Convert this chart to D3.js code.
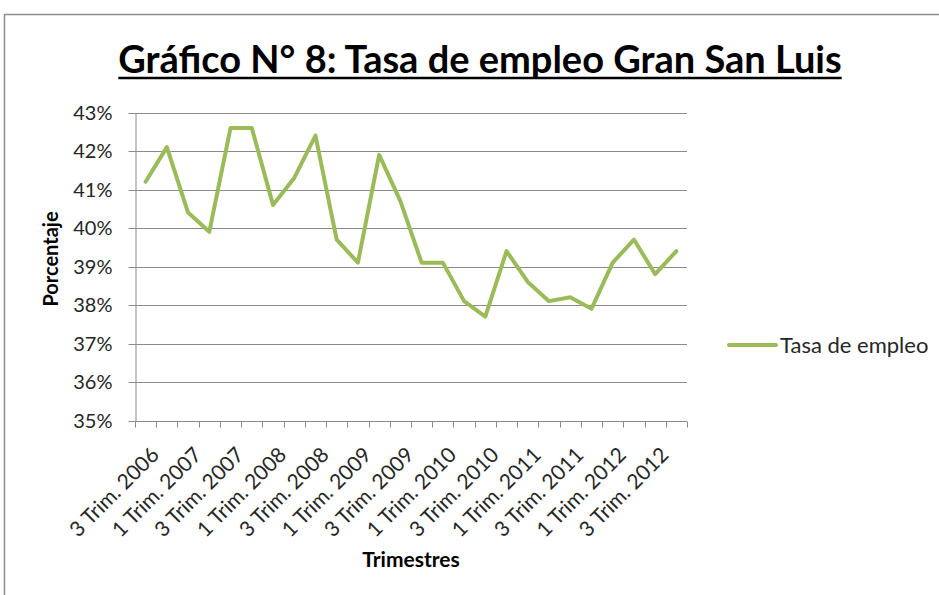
<!DOCTYPE html>
<html>
<head>
<meta charset="utf-8">
<script src="https://cdn.jsdelivr.net/npm/d3@7"></script>
<style>
  body { margin: 0; background: #fff; }
  svg { display: block; }
</style>
</head>
<body>
<svg id="chart" width="939" height="595"></svg>
<script>
// quarters from 3 Trim. 2006 to 4 Trim. 2012
var trimestres = [
  "3 Trim. 2006", "4 Trim. 2006",
  "1 Trim. 2007", "2 Trim. 2007", "3 Trim. 2007", "4 Trim. 2007",
  "1 Trim. 2008", "2 Trim. 2008", "3 Trim. 2008", "4 Trim. 2008",
  "1 Trim. 2009", "2 Trim. 2009", "3 Trim. 2009", "4 Trim. 2009",
  "1 Trim. 2010", "2 Trim. 2010", "3 Trim. 2010", "4 Trim. 2010",
  "1 Trim. 2011", "2 Trim. 2011", "3 Trim. 2011", "4 Trim. 2011",
  "1 Trim. 2012", "2 Trim. 2012", "3 Trim. 2012", "4 Trim. 2012"
];
var tasaEmpleo = [
  41.2, 42.1, 40.4, 39.9, 42.6, 42.6, 40.6, 41.3, 42.4, 39.7,
  39.1, 41.9, 40.7, 39.1, 39.1, 38.1, 37.7, 39.4, 38.6, 38.1,
  38.2, 37.9, 39.1, 39.7, 38.8, 39.4
];
var yTicks = [35, 36, 37, 38, 39, 40, 41, 42, 43];

var FONT = "Lato, 'Liberation Sans', sans-serif";
var svg = d3.select("#chart");

//* outer frame
svg.append("rect")
  .attr("x", 4.5).attr("y", 14.5)
  .attr("width", 960).attr("height", 620)
  .attr("fill", "none")
  .attr("stroke", "#8c8c8c")
  .attr("stroke-width", 1.5);

var plot = { left: 135, right: 687, top: 112.5, bottom: 420.5 };

var x = d3.scaleBand()
  .domain(trimestres)
  .range([plot.left, plot.right]);

var y = d3.scaleLinear()
  .domain([35, 43])
  .range([plot.bottom, plot.top]);

//* gridlines
svg.append("g")
  .selectAll("line")
  .data(yTicks.slice(1))
  .enter().append("line")
  .attr("x1", plot.left).attr("x2", plot.right)
  .attr("y1", function(d){ return Math.round(y(d)) + 0.5; })
  .attr("y2", function(d){ return Math.round(y(d)) + 0.5; })
  .attr("stroke", "#8a8a8a")
  .attr("stroke-width", 1);

//* y axis
var yAxis = svg.append("g")
  .attr("transform", "translate(" + (plot.left + 0.5) + ",0)")
  .call(d3.axisLeft(y).tickValues(yTicks).tickSize(7).tickSizeOuter(0).tickPadding(16)
    .tickFormat(function(d){ return d + "%"; }));
yAxis.select(".domain").attr("stroke", "#8a8a8a");
yAxis.selectAll(".tick line").attr("stroke", "#8a8a8a");
yAxis.selectAll(".tick").attr("transform", function(d){
  return "translate(0," + (Math.round(y(d)) + 0.5) + ")";
});
yAxis.selectAll("text")
  .attr("font-family", FONT)
  .attr("font-size", 20)
  .attr("fill", "#262626");

//* x axis
var xAxis = svg.append("g")
  .attr("transform", "translate(0," + (Math.round(plot.bottom) + 0.5) + ")");
xAxis.append("line")
  .attr("x1", plot.left).attr("x2", plot.right)
  .attr("stroke", "#8a8a8a");
var boundaries = trimestres.map(function(d){ return x(d); }).concat([plot.right]);
xAxis.selectAll(".tick-mark")
  .data(boundaries)
  .enter().append("line")
  .attr("class", "tick-mark")
  .attr("x1", function(d){ return Math.round(d) + 0.5; })
  .attr("x2", function(d){ return Math.round(d) + 0.5; })
  .attr("y1", 0).attr("y2", 6)
  .attr("stroke", "#8a8a8a");

xAxis.selectAll(".xlabel")
  .data(trimestres.filter(function(d, i){ return i % 2 === 0; }))
  .enter().append("text")
  .attr("class", "xlabel")
  .attr("transform", function(d){
    return "translate(" + (x(d) + x.bandwidth() / 2 + 4) + ",24) rotate(-45)";
  })
  .attr("text-anchor", "end")
  .attr("dy", "0.72em")
  .attr("font-family", FONT)
  .attr("font-size", 21)
  .attr("fill", "#262626")
  .text(function(d){ return d; });

//* line
var line = d3.line()
  .x(function(d, i){ return x(trimestres[i]) + x.bandwidth() / 2; })
  .y(function(d){ return y(d); });

svg.append("path")
  .datum(tasaEmpleo)
  .attr("d", line)
  .attr("fill", "none")
  .attr("stroke", "#9bbb59")
  .attr("stroke-width", 4)
  .attr("stroke-linejoin", "round")
  .attr("stroke-linecap", "round");

//* title
var title = svg.append("text")
  .attr("x", 480).attr("y", 73)
  .attr("text-anchor", "middle")
  .attr("font-family", FONT)
  .attr("font-weight", "bold")
  .attr("font-size", 38)
  .attr("fill", "#000")
  .text("Gráfico N° 8: Tasa de empleo Gran San Luis");
var tb = title.node().getBBox();
svg.append("line")
  .attr("x1", tb.x).attr("x2", tb.x + tb.width)
  .attr("y1", 78).attr("y2", 78)
  .attr("stroke", "#000").attr("stroke-width", 2.5);

//* axis titles
svg.append("text")
  .attr("transform", "translate(58,259) rotate(-90)")
  .attr("text-anchor", "middle")
  .attr("font-family", FONT)
  .attr("font-weight", "bold")
  .attr("font-size", 20)
  .attr("fill", "#000")
  .text("Porcentaje");

svg.append("text")
  .attr("x", 411).attr("y", 567)
  .attr("text-anchor", "middle")
  .attr("font-family", FONT)
  .attr("font-weight", "bold")
  .attr("font-size", 21)
  .attr("fill", "#000")
  .text("Trimestres");

//* legend
var legend = svg.append("g").attr("transform", "translate(729,345)");
legend.append("line")
  .attr("x1", 0).attr("x2", 47)
  .attr("stroke", "#9bbb59")
  .attr("stroke-width", 4)
  .attr("stroke-linecap", "round");
legend.append("text")
  .attr("x", 51).attr("y", 0)
  .attr("dy", "0.35em")
  .attr("font-family", FONT)
  .attr("font-size", 22)
  .attr("fill", "#262626")
  .text("Tasa de empleo");
</script>
</body>
</html>
